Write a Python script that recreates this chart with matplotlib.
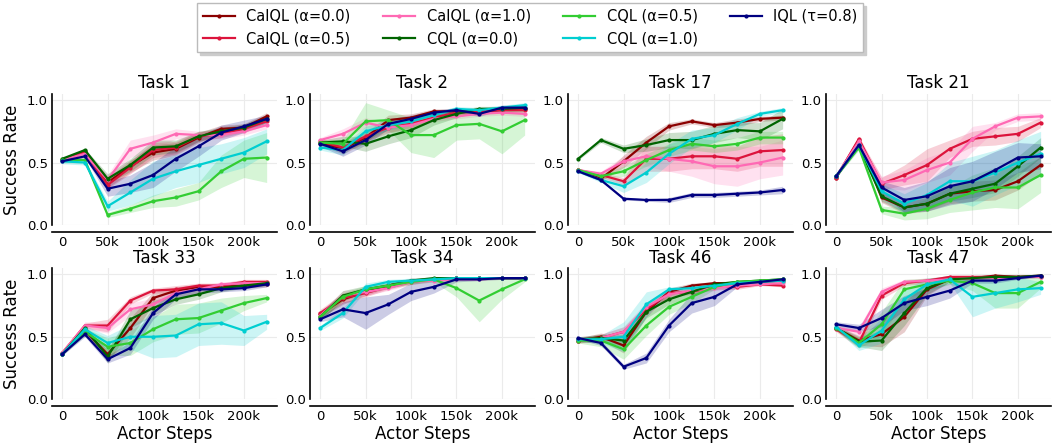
# -*- coding: utf-8 -*-
import numpy as np
import matplotlib
matplotlib.use("Agg")
import matplotlib.pyplot as plt
from matplotlib.ticker import FuncFormatter

# === DADOS ===
steps = [0, 25000, 50000, 75000, 100000, 125000, 150000, 175000, 200000, 225000]
metodos = ["CalQL (α=0.0)", "CalQL (α=0.5)", "CalQL (α=1.0)",
           "CQL (α=0.0)", "CQL (α=0.5)", "CQL (α=1.0)", "IQL (τ=0.8)"]
cores = ["#8b0000", "#dc143c", "#ff69b4", "#006400", "#32cd32", "#00ced1", "#000080"]
tarefas = ["Task 1", "Task 2", "Task 17", "Task 21", "Task 33", "Task 34", "Task 46", "Task 47"]

# médias (ordem de metodos)
t1_media = [
    [0.52, 0.59, 0.34, 0.47, 0.58, 0.61, 0.70, 0.77, 0.78, 0.87],
    [0.52, 0.58, 0.32, 0.46, 0.60, 0.62, 0.71, 0.73, 0.77, 0.83],
    [0.52, 0.57, 0.36, 0.61, 0.66, 0.73, 0.72, 0.72, 0.75, 0.80],
    [0.53, 0.60, 0.37, 0.48, 0.62, 0.63, 0.71, 0.75, 0.78, 0.85],
    [0.52, 0.52, 0.08, 0.13, 0.19, 0.22, 0.27, 0.43, 0.53, 0.54],
    [0.51, 0.50, 0.15, 0.26, 0.37, 0.43, 0.48, 0.53, 0.58, 0.67],
    [0.51, 0.55, 0.29, 0.33, 0.40, 0.53, 0.63, 0.74, 0.79, 0.85],
]
t1_std = [
    [0.01, 0.01, 0.04, 0.05, 0.06, 0.05, 0.04, 0.03, 0.03, 0.03],
    [0.01, 0.01, 0.03, 0.05, 0.06, 0.05, 0.04, 0.03, 0.03, 0.03],
    [0.01, 0.01, 0.04, 0.07, 0.06, 0.04, 0.03, 0.03, 0.03, 0.03],
    [0.01, 0.01, 0.04, 0.05, 0.06, 0.05, 0.04, 0.03, 0.03, 0.03],
    [0.02, 0.02, 0.02, 0.03, 0.05, 0.07, 0.07, 0.13, 0.15, 0.20],
    [0.02, 0.02, 0.04, 0.10, 0.14, 0.13, 0.14, 0.12, 0.12, 0.10],
    [0.01, 0.01, 0.06, 0.07, 0.10, 0.10, 0.08, 0.06, 0.05, 0.03],
]
t2_media = [
    [0.66, 0.61, 0.70, 0.84, 0.86, 0.91, 0.91, 0.91, 0.92, 0.93],
    [0.67, 0.62, 0.71, 0.78, 0.81, 0.86, 0.90, 0.91, 0.92, 0.92],
    [0.68, 0.73, 0.82, 0.78, 0.80, 0.85, 0.87, 0.89, 0.90, 0.89],
    [0.66, 0.67, 0.65, 0.71, 0.76, 0.84, 0.89, 0.93, 0.93, 0.94],
    [0.66, 0.65, 0.83, 0.84, 0.72, 0.72, 0.80, 0.81, 0.75, 0.84],
    [0.62, 0.60, 0.75, 0.80, 0.83, 0.88, 0.93, 0.92, 0.94, 0.96],
    [0.65, 0.59, 0.68, 0.81, 0.85, 0.90, 0.92, 0.89, 0.94, 0.94],
]
t2_std = [
    [0.02, 0.04, 0.04, 0.04, 0.03, 0.02, 0.02, 0.02, 0.02, 0.02],
    [0.02, 0.04, 0.04, 0.04, 0.03, 0.02, 0.02, 0.02, 0.02, 0.02],
    [0.02, 0.04, 0.04, 0.04, 0.03, 0.02, 0.02, 0.02, 0.02, 0.02],
    [0.02, 0.04, 0.06, 0.06, 0.06, 0.04, 0.03, 0.02, 0.02, 0.02],
    [0.02, 0.03, 0.15, 0.08, 0.14, 0.18, 0.12, 0.12, 0.18, 0.12],
    [0.02, 0.04, 0.04, 0.04, 0.03, 0.02, 0.02, 0.02, 0.02, 0.02],
    [0.02, 0.04, 0.04, 0.04, 0.03, 0.02, 0.02, 0.02, 0.02, 0.02],
]
t17_media = [
    [0.44, 0.37, 0.51, 0.66, 0.79, 0.83, 0.80, 0.82, 0.85, 0.86],
    [0.44, 0.40, 0.35, 0.53, 0.53, 0.55, 0.55, 0.53, 0.59, 0.60],
    [0.44, 0.41, 0.51, 0.55, 0.53, 0.51, 0.47, 0.47, 0.50, 0.54],
    [0.53, 0.68, 0.61, 0.64, 0.68, 0.68, 0.73, 0.76, 0.75, 0.85],
    [0.44, 0.39, 0.43, 0.52, 0.60, 0.65, 0.63, 0.65, 0.70, 0.70],
    [0.43, 0.36, 0.31, 0.42, 0.57, 0.69, 0.72, 0.81, 0.89, 0.92],
    [0.43, 0.36, 0.21, 0.20, 0.20, 0.24, 0.24, 0.25, 0.26, 0.28],
]
t17_std = [
    [0.01, 0.02, 0.05, 0.05, 0.03, 0.02, 0.02, 0.03, 0.02, 0.02],
    [0.01, 0.02, 0.03, 0.10, 0.10, 0.10, 0.10, 0.10, 0.12, 0.13],
    [0.01, 0.02, 0.04, 0.08, 0.10, 0.12, 0.14, 0.16, 0.13, 0.14],
    [0.01, 0.02, 0.03, 0.05, 0.06, 0.07, 0.07, 0.06, 0.07, 0.08],
    [0.01, 0.02, 0.04, 0.05, 0.05, 0.05, 0.05, 0.05, 0.05, 0.05],
    [0.01, 0.02, 0.05, 0.08, 0.08, 0.07, 0.06, 0.05, 0.02, 0.02],
    [0.01, 0.01, 0.01, 0.01, 0.02, 0.02, 0.02, 0.02, 0.02, 0.03],
]
t21_media = [
    [0.38, 0.68, 0.22, 0.14, 0.17, 0.25, 0.27, 0.28, 0.35, 0.48],
    [0.38, 0.69, 0.33, 0.40, 0.48, 0.61, 0.69, 0.71, 0.73, 0.82],
    [0.39, 0.67, 0.34, 0.36, 0.44, 0.50, 0.69, 0.79, 0.86, 0.87],
    [0.39, 0.63, 0.23, 0.14, 0.17, 0.25, 0.29, 0.33, 0.47, 0.62],
    [0.39, 0.62, 0.12, 0.09, 0.13, 0.20, 0.26, 0.30, 0.30, 0.40],
    [0.39, 0.64, 0.27, 0.17, 0.24, 0.35, 0.35, 0.42, 0.50, 0.57],
    [0.39, 0.64, 0.30, 0.20, 0.23, 0.31, 0.35, 0.44, 0.54, 0.55],
]
t21_std = [
    [0.01, 0.02, 0.04, 0.05, 0.06, 0.08, 0.08, 0.08, 0.07, 0.07],
    [0.01, 0.02, 0.05, 0.08, 0.13, 0.07, 0.06, 0.07, 0.06, 0.04],
    [0.01, 0.02, 0.05, 0.08, 0.10, 0.10, 0.10, 0.03, 0.03, 0.03],
    [0.01, 0.02, 0.04, 0.04, 0.05, 0.06, 0.07, 0.07, 0.08, 0.08],
    [0.01, 0.02, 0.03, 0.05, 0.08, 0.10, 0.14, 0.16, 0.17, 0.14],
    [0.01, 0.02, 0.06, 0.08, 0.10, 0.15, 0.20, 0.18, 0.18, 0.18],
    [0.01, 0.02, 0.05, 0.10, 0.12, 0.15, 0.16, 0.15, 0.12, 0.10],
]
t33_media = [
    [0.36, 0.55, 0.36, 0.57, 0.81, 0.87, 0.90, 0.90, 0.91, 0.92],
    [0.37, 0.59, 0.59, 0.79, 0.87, 0.88, 0.91, 0.91, 0.94, 0.94],
    [0.37, 0.59, 0.57, 0.72, 0.76, 0.85, 0.88, 0.92, 0.93, 0.93],
    [0.36, 0.57, 0.34, 0.64, 0.73, 0.80, 0.84, 0.89, 0.91, 0.93],
    [0.36, 0.54, 0.42, 0.45, 0.56, 0.64, 0.65, 0.71, 0.77, 0.81],
    [0.36, 0.56, 0.45, 0.50, 0.50, 0.51, 0.60, 0.61, 0.55, 0.62],
    [0.36, 0.52, 0.32, 0.41, 0.69, 0.84, 0.88, 0.88, 0.89, 0.92],
]
t33_std = [
    [0.01, 0.02, 0.05, 0.08, 0.05, 0.03, 0.02, 0.02, 0.02, 0.02],
    [0.01, 0.02, 0.05, 0.03, 0.02, 0.03, 0.02, 0.02, 0.02, 0.02],
    [0.01, 0.03, 0.04, 0.05, 0.05, 0.04, 0.03, 0.02, 0.02, 0.02],
    [0.01, 0.02, 0.05, 0.07, 0.06, 0.04, 0.04, 0.03, 0.02, 0.02],
    [0.01, 0.03, 0.07, 0.10, 0.10, 0.12, 0.12, 0.10, 0.06, 0.03],
    [0.01, 0.03, 0.06, 0.10, 0.17, 0.17, 0.17, 0.17, 0.12, 0.06],
    [0.01, 0.02, 0.03, 0.05, 0.05, 0.04, 0.03, 0.02, 0.02, 0.02],
]
t34_media = [
    [0.68, 0.80, 0.86, 0.91, 0.95, 0.96, 0.97, 0.97, 0.97, 0.97],
    [0.69, 0.81, 0.85, 0.90, 0.94, 0.96, 0.97, 0.97, 0.97, 0.97],
    [0.67, 0.83, 0.86, 0.89, 0.94, 0.95, 0.96, 0.96, 0.97, 0.97],
    [0.66, 0.83, 0.88, 0.91, 0.95, 0.97, 0.97, 0.97, 0.97, 0.97],
    [0.66, 0.82, 0.88, 0.91, 0.94, 0.96, 0.89, 0.79, 0.88, 0.96],
    [0.57, 0.69, 0.90, 0.94, 0.95, 0.96, 0.97, 0.97, 0.97, 0.97],
    [0.64, 0.72, 0.69, 0.76, 0.86, 0.90, 0.96, 0.96, 0.97, 0.97],
]
t34_std = [
    [0.03, 0.04, 0.03, 0.02, 0.02, 0.01, 0.01, 0.01, 0.01, 0.01],
    [0.03, 0.04, 0.03, 0.02, 0.02, 0.01, 0.01, 0.01, 0.01, 0.01],
    [0.03, 0.04, 0.03, 0.02, 0.02, 0.01, 0.01, 0.01, 0.01, 0.01],
    [0.03, 0.04, 0.03, 0.02, 0.02, 0.01, 0.01, 0.01, 0.01, 0.01],
    [0.03, 0.03, 0.03, 0.02, 0.02, 0.02, 0.07, 0.17, 0.08, 0.02],
    [0.02, 0.04, 0.03, 0.02, 0.02, 0.01, 0.01, 0.01, 0.01, 0.01],
    [0.02, 0.06, 0.13, 0.08, 0.07, 0.05, 0.02, 0.01, 0.01, 0.01],
]
t46_media = [
    [0.47, 0.50, 0.43, 0.70, 0.86, 0.91, 0.93, 0.93, 0.94, 0.95],
    [0.47, 0.49, 0.54, 0.72, 0.85, 0.86, 0.90, 0.90, 0.92, 0.91],
    [0.48, 0.49, 0.54, 0.74, 0.84, 0.87, 0.89, 0.91, 0.92, 0.93],
    [0.48, 0.49, 0.47, 0.70, 0.80, 0.86, 0.92, 0.94, 0.95, 0.96],
    [0.47, 0.47, 0.40, 0.59, 0.74, 0.82, 0.90, 0.94, 0.95, 0.96],
    [0.48, 0.48, 0.50, 0.76, 0.88, 0.89, 0.91, 0.93, 0.94, 0.95],
    [0.49, 0.45, 0.26, 0.33, 0.59, 0.77, 0.82, 0.92, 0.94, 0.96],
]
t46_std = [
    [0.02, 0.03, 0.06, 0.04, 0.03, 0.02, 0.01, 0.01, 0.01, 0.01],
    [0.02, 0.03, 0.04, 0.04, 0.03, 0.02, 0.02, 0.02, 0.01, 0.01],
    [0.02, 0.03, 0.04, 0.04, 0.03, 0.02, 0.02, 0.02, 0.01, 0.01],
    [0.02, 0.03, 0.05, 0.05, 0.04, 0.03, 0.02, 0.01, 0.01, 0.01],
    [0.02, 0.05, 0.08, 0.08, 0.06, 0.05, 0.02, 0.01, 0.01, 0.01],
    [0.02, 0.03, 0.12, 0.10, 0.02, 0.02, 0.02, 0.01, 0.01, 0.01],
    [0.01, 0.02, 0.02, 0.04, 0.05, 0.08, 0.07, 0.02, 0.01, 0.01],
]
t47_media = [
    [0.57, 0.47, 0.52, 0.66, 0.88, 0.96, 0.97, 0.99, 0.98, 0.99],
    [0.56, 0.45, 0.83, 0.93, 0.95, 0.98, 0.98, 0.98, 0.98, 0.98],
    [0.57, 0.54, 0.86, 0.94, 0.95, 0.96, 0.97, 0.97, 0.98, 0.98],
    [0.57, 0.46, 0.47, 0.69, 0.89, 0.96, 0.97, 0.98, 0.98, 0.99],
    [0.57, 0.45, 0.60, 0.88, 0.92, 0.95, 0.93, 0.85, 0.85, 0.94],
    [0.58, 0.43, 0.55, 0.80, 0.92, 0.96, 0.82, 0.85, 0.88, 0.89],
    [0.60, 0.57, 0.65, 0.77, 0.82, 0.87, 0.95, 0.95, 0.97, 0.99],
]
t47_std = [
    [0.02, 0.04, 0.10, 0.12, 0.05, 0.02, 0.02, 0.01, 0.01, 0.01],
    [0.02, 0.04, 0.03, 0.02, 0.02, 0.01, 0.01, 0.01, 0.01, 0.01],
    [0.02, 0.04, 0.03, 0.02, 0.02, 0.01, 0.01, 0.01, 0.01, 0.01],
    [0.02, 0.04, 0.08, 0.10, 0.05, 0.02, 0.02, 0.01, 0.01, 0.01],
    [0.02, 0.04, 0.10, 0.08, 0.05, 0.03, 0.06, 0.12, 0.12, 0.05],
    [0.02, 0.04, 0.10, 0.08, 0.05, 0.03, 0.16, 0.12, 0.10, 0.05],
    [0.02, 0.03, 0.07, 0.06, 0.07, 0.06, 0.02, 0.02, 0.01, 0.01],
]

medias = [t1_media, t2_media, t17_media, t21_media, t33_media, t34_media, t46_media, t47_media]
desvios = [t1_std, t2_std, t17_std, t21_std, t33_std, t34_std, t46_std, t47_std]

# === FIGURA ===
plt.rcParams['font.family'] = 'DejaVu Sans'
fig, axes = plt.subplots(2, 4, figsize=(10.54, 4.43), dpi=100)
fig.subplots_adjust(left=0.0493, right=0.997, top=0.788, bottom=0.099,
                    wspace=0.147, hspace=0.33)

x = np.array(steps)
for k, ax in enumerate(axes.flat):
    for j, nome in enumerate(metodos):
        m = np.array(medias[k][j])
        s = np.array(desvios[k][j])
        ax.fill_between(x, np.clip(m - s, 0, 1), np.clip(m + s, 0, 1),
                        color=cores[j], alpha=0.2, linewidth=0)
        ax.plot(x, m, color=cores[j], marker='.', markersize=4,
                linewidth=1.6, label=nome)
    ax.set_title(tarefas[k], fontsize=12, pad=4)
    ax.set_ylim(0, 1.05)
    ax.set_yticks([0.0, 0.5, 1.0])
    ax.set_xticks([0, 50000, 100000, 150000, 200000])
    ax.xaxis.set_major_formatter(FuncFormatter(lambda v, p: "0" if v == 0 else f"{int(v/1000)}k"))
    ax.tick_params(labelsize=9.5, length=0, pad=3)
    ax.grid(True, color='#ebebeb', linewidth=0.8)
    ax.set_axisbelow(True)
    ax.spines['top'].set_visible(False)
    ax.spines['right'].set_visible(False)
    ax.spines['bottom'].set_position(('outward', 5))
    ax.spines['left'].set_linewidth(1.2)
    ax.spines['bottom'].set_linewidth(1.2)
    if k % 4 == 0:
        ax.set_ylabel("Success Rate", fontsize=12)
    if k >= 4:
        ax.set_xlabel("Actor Steps", fontsize=12, labelpad=1)

handles, labels = axes[0, 0].get_legend_handles_labels()
fig.legend(handles, labels, loc='upper center', bbox_to_anchor=(0.503, 1.0),
           ncol=4, fontsize=10.5, frameon=True, edgecolor='#bbbbbb', fancybox=False,
           shadow={'color': '0.8', 'alpha': 1}, handlelength=2.2, columnspacing=2.2,
           borderaxespad=0.2)

fig.savefig("out.png", dpi=100)
